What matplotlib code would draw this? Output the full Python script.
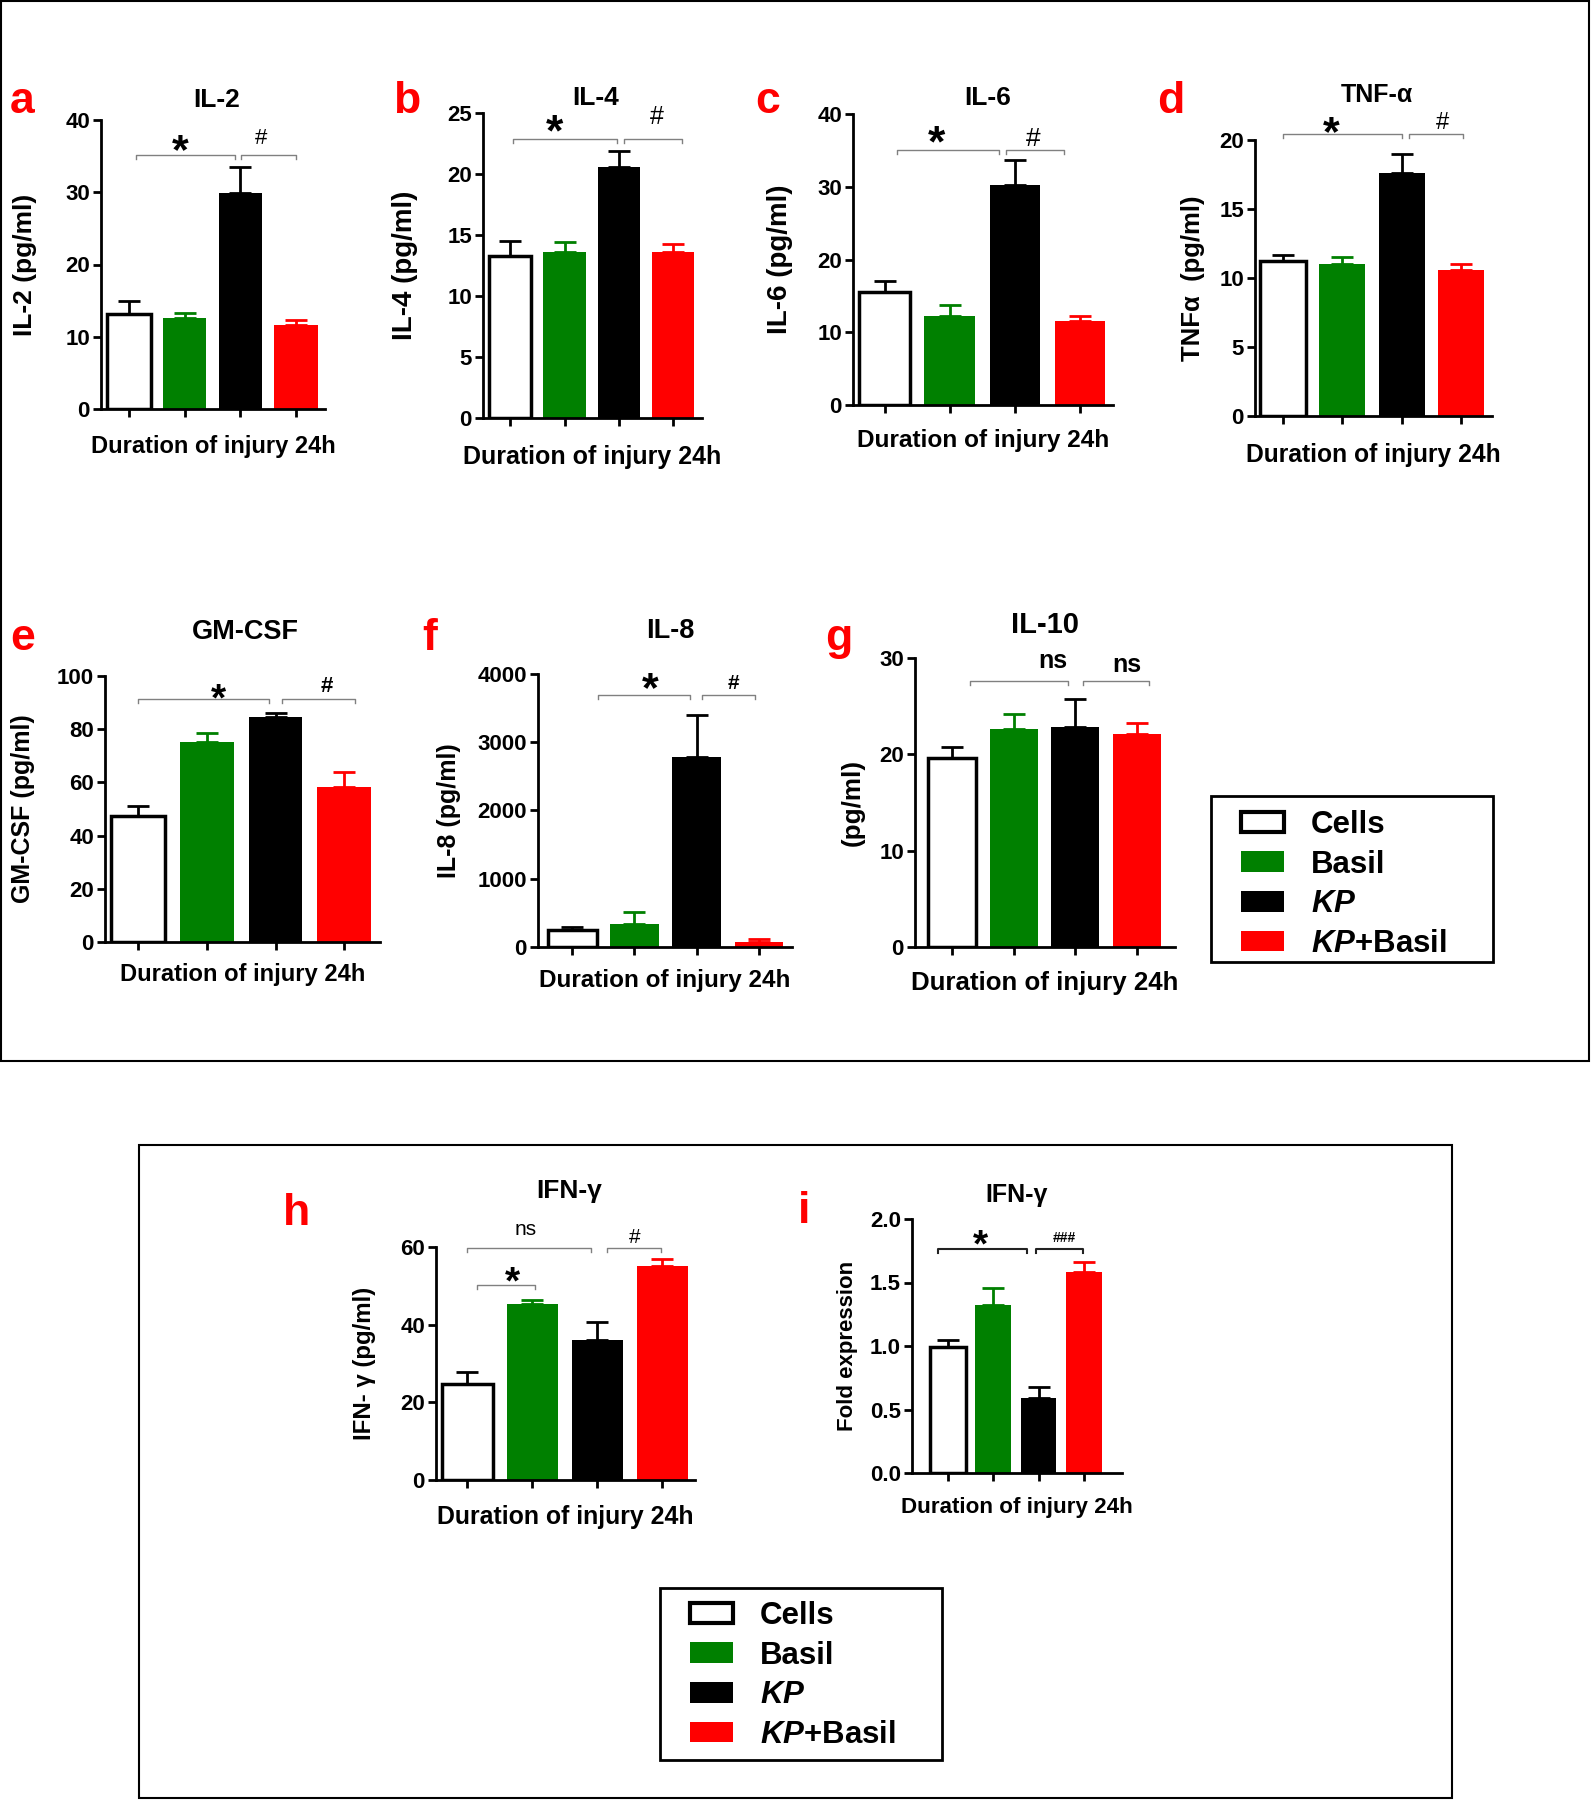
import matplotlib
matplotlib.use("Agg")
import matplotlib.pyplot as plt
from matplotlib.patches import Patch, Rectangle
from matplotlib.transforms import offset_copy
import numpy as np

plt.rcParams['font.family'] = ['Liberation Sans', 'DejaVu Sans']
plt.rcParams['font.weight'] = 'bold'
plt.rcParams['axes.labelweight'] = 'bold'
plt.rcParams['mathtext.fontset'] = 'custom'
plt.rcParams['mathtext.it'] = 'Liberation Sans:italic:bold'
plt.rcParams['mathtext.rm'] = 'Liberation Sans:bold'
plt.rcParams['mathtext.bf'] = 'Liberation Sans:bold'

# ---------------- data ----------------
groups = ["Cells", "Basil", "KP", "KP+Basil"]
legend_labels = ["Cells", "Basil", r"$\mathit{KP}$", r"$\mathit{KP}$+Basil"]

il2_mean = [13.2, 12.6, 29.9, 11.6]
il2_sem = [1.7, 0.7, 3.6, 0.7]
il4_mean = [13.3, 13.6, 20.6, 13.6]
il4_sem = [1.2, 0.8, 1.3, 0.65]
il6_mean = [15.5, 12.2, 30.3, 11.5]
il6_sem = [1.6, 1.6, 3.4, 0.8]
tnf_mean = [11.2, 11.0, 17.6, 10.6]
tnf_sem = [0.45, 0.55, 1.4, 0.4]
gmcsf_mean = [47.3, 75.3, 84.7, 58.3]
gmcsf_sem = [3.8, 3.1, 1.3, 5.7]
il8_mean = [245, 333, 2787, 73]
il8_sem = [50, 180, 612, 50]
il10_mean = [19.6, 22.6, 22.8, 22.1]
il10_sem = [1.2, 1.6, 2.9, 1.2]
ifng_mean = [24.8, 45.3, 36.1, 55.2]
ifng_sem = [3.1, 1.1, 4.6, 1.8]
ifng_fold_mean = [0.99, 1.325, 0.59, 1.58]
ifng_fold_sem = [0.06, 0.13, 0.09, 0.08]

GREEN = "#008000"
RED = "#FF0000"
bar_colors = ["white", GREEN, "black", RED]
edge_colors = ["black", GREEN, "black", RED]
edge_widths = [2.5, 0, 0, 0]
err_colors = ["black", GREEN, "black", RED]

W, H = 1591, 1800
fig = plt.figure(figsize=(W / 100, H / 100), dpi=100)

# baseline offsets (fraction of em) of ink centre for marker glyphs
INK = {'*': 0.57, '#': 0.35, '###': 0.35, 'ns': 0.26}

panels = [
    dict(letter='a', title='IL-2', ylabel='IL-2 (pg/ml)', mean=il2_mean, err=il2_sem,
         ylim=40, yticks=[0, 10, 20, 30, 40], box=(101, 325, 120, 409), xlim=(-0.5, 3.52),
         title_pos=(217, 107), letter_pos=(10, 113), xlab_y=447, ylab_x=25,
         xlab_fs=17, ylab_fs=19, title_fs=19,
         brackets=[(0.12, 1.90, 35.1), (2.01, 3.0, 35.1)],
         marks=[(0.92, 37.5, '*', 31, 'bold'), (2.37, 37.7, '#', 16, 'normal')]),
    dict(letter='b', title='IL-4', ylabel='IL-4 (pg/ml)', mean=il4_mean, err=il4_sem,
         ylim=25, yticks=[0, 5, 10, 15, 20, 25], box=(483, 702, 113, 418), xlim=(-0.5, 3.53),
         title_pos=(596, 105), letter_pos=(393, 113), xlab_y=457, ylab_x=405,
         xlab_fs=18, ylab_fs=20, title_fs=19,
         brackets=[(0.06, 1.96, 22.9), (2.09, 3.17, 22.9)],
         marks=[(0.81, 24.4, '*', 32, 'bold'), (2.69, 24.8, '#', 18, 'normal')]),
    dict(letter='c', title='IL-6', ylabel='IL-6 (pg/ml)', mean=il6_mean, err=il6_sem,
         ylim=40, yticks=[0, 10, 20, 30, 40], box=(853, 1113, 114, 405), xlim=(-0.49, 3.51),
         title_pos=(988, 105), letter_pos=(755, 113), xlab_y=440, ylab_x=780,
         xlab_fs=17.6, ylab_fs=20, title_fs=19,
         brackets=[(0.18, 1.76, 35.1), (1.86, 2.75, 35.1)],
         marks=[(0.79, 37.6, '*', 32, 'bold'), (2.28, 36.9, '#', 19, 'normal')]),
    dict(letter='d', title='TNF-α', ylabel='TNFα  (pg/ml)', mean=tnf_mean, err=tnf_sem,
         ylim=20, yticks=[0, 5, 10, 15, 20], box=(1255, 1492, 140, 416), xlim=(-0.47, 3.52),
         title_pos=(1377, 102), letter_pos=(1157, 113), xlab_y=455, ylab_x=1193,
         xlab_fs=17.7, ylab_fs=18.5, title_fs=18,
         brackets=[(0.0, 2.01, 20.4), (2.12, 3.03, 20.4)],
         marks=[(0.82, 21.4, '*', 31, 'bold'), (2.68, 21.4, '#', 17, 'normal')]),
    dict(letter='e', title='GM-CSF', ylabel='GM-CSF (pg/ml)', mean=gmcsf_mean, err=gmcsf_sem,
         ylim=100, yticks=[0, 20, 40, 60, 80, 100], box=(105, 380, 676, 942), xlim=(-0.48, 3.52),
         title_pos=(245, 639), letter_pos=(10, 650), xlab_y=975, ylab_x=23,
         xlab_fs=17.1, ylab_fs=18, title_fs=19.5,
         brackets=[(0.0, 1.90, 91.3), (2.1, 3.15, 91.3)],
         marks=[(1.17, 95.3, '*', 28, 'bold'), (2.74, 97.0, '#', 16, 'bold')]),
    dict(letter='f', title='IL-8', ylabel='IL-8 (pg/ml)', mean=il8_mean, err=il8_sem,
         ylim=4000, yticks=[0, 1000, 2000, 3000, 4000], box=(538, 792, 674, 947), xlim=(-0.55, 3.53),
         title_pos=(670, 638), letter_pos=(422, 650), xlab_y=980, ylab_x=449,
         xlab_fs=17.5, ylab_fs=18, title_fs=19.5,
         brackets=[(0.42, 1.89, 3692), (2.09, 2.93, 3692)],
         marks=[(1.25, 3960, '*', 31, 'bold'), (2.59, 3890, '#', 15, 'bold')]),
    dict(letter='g', title='IL-10', ylabel='(pg/ml)', mean=il10_mean, err=il10_sem,
         ylim=30, yticks=[0, 10, 20, 30], box=(915, 1175, 658, 947), xlim=(-0.6, 3.62),
         title_pos=(1045, 633), letter_pos=(825, 650), xlab_y=983, ylab_x=853,
         xlab_fs=18.6, ylab_fs=18.7, title_fs=21,
         brackets=[(0.29, 1.89, 27.6), (2.13, 3.19, 27.6)],
         marks=[(1.63, 29.6, 'ns', 18, 'bold'), (2.84, 29.2, 'ns', 18, 'bold')]),
    dict(letter='h', title='IFN-γ', ylabel='IFN- γ (pg/ml)', mean=ifng_mean, err=ifng_sem,
         ylim=60, yticks=[0, 20, 40, 60], box=(436, 695, 1247, 1480), xlim=(-0.48, 3.5),
         title_pos=(569, 1198), letter_pos=(283, 1225), xlab_y=1517, ylab_x=365,
         xlab_fs=17.9, ylab_fs=17.3, title_fs=19,
         brackets=[(0.0, 1.90, 59.8), (0.15, 1.04, 50.3), (2.15, 2.97, 59.8)],
         marks=[(0.9, 64.5, 'ns', 15, 'normal'), (0.69, 53.7, '*', 28, 'bold'),
                (2.58, 62.9, '#', 15, 'normal')]),
    dict(letter='i', title='IFN-γ', ylabel='Fold expression', mean=ifng_fold_mean, err=ifng_fold_sem,
         ylim=2.0, yticks=[0.0, 0.5, 1.0, 1.5, 2.0], box=(912, 1122, 1219, 1473), xlim=(-0.79, 3.84),
         title_pos=(1017, 1202), letter_pos=(798, 1223), xlab_y=1507, ylab_x=847,
         xlab_fs=16.1, ylab_fs=16, title_fs=18, fmt='%.1f', bracket_color='#222222', bracket_lw=1.5,
         brackets=[(-0.22, 1.75, 1.764), (1.95, 2.99, 1.764)],
         marks=[(0.73, 1.88, '*', 28, 'bold'), (2.57, 1.86, '###', 10, 'bold')]),
]

x = np.arange(len(groups))
for p in panels:
    l, r, t, b = p['box']
    wpx, hpx = r - l, b - t
    ax = fig.add_axes([l / W, 1 - b / H, wpx / W, hpx / H])
    ax.bar(x, p['mean'], width=0.78, color=bar_colors, edgecolor=edge_colors,
           linewidth=edge_widths, zorder=2)
    for i in range(len(groups)):
        ax.errorbar(x[i], p['mean'][i], yerr=[[0], [p['err'][i]]], fmt='none',
                    ecolor=err_colors[i], elinewidth=2, capsize=8, capthick=2, zorder=3)
    ax.set_xlim(*p['xlim'])
    ax.set_ylim(0, p['ylim'])
    ax.set_xticks(x)
    ax.set_yticks(p['yticks'])
    if 'fmt' in p:
        ax.yaxis.set_major_formatter(matplotlib.ticker.FormatStrFormatter(p['fmt']))
    ax.tick_params(axis='both', direction='out', length=6, width=2, labelsize=16, pad=2)
    ax.tick_params(axis='x', labelbottom=False)
    for lab in ax.get_yticklabels():
        lab.set_fontweight('bold')
    for s in ['top', 'right']:
        ax.spines[s].set_visible(False)
    for s in ['left', 'bottom']:
        ax.spines[s].set_linewidth(2)
    ax.set_xlabel('Duration of injury 24h', fontsize=p['xlab_fs'], fontweight='bold', va='center')
    ax.xaxis.set_label_coords(0.5, -(p['xlab_y'] - b) / hpx)
    ax.set_ylabel(p['ylabel'], fontsize=p['ylab_fs'], fontweight='bold', va='center', ha='center')
    ax.yaxis.set_label_coords((p['ylab_x'] - l) / wpx, 0.5)
    tx, ty = p['title_pos']
    ax.set_title(p['title'], x=(tx - l) / wpx, y=(b - ty) / hpx, va='baseline', pad=0,
                 fontsize=p['title_fs'], fontweight='bold')
    lx, ly = p['letter_pos']
    fig.text(lx / W, 1 - ly / H, p['letter'], color='#FF0000', fontsize=32,
             fontweight='bold', ha='left', va='baseline')
    bc = p.get('bracket_color', '#808080')
    blw = p.get('bracket_lw', 1.0)
    drop = 4 / hpx * p['ylim']
    for (x1, x2, yy) in p['brackets']:
        ax.plot([x1, x1, x2, x2], [yy - drop, yy, yy, yy - drop], color=bc, lw=blw,
                clip_on=False, zorder=4)
    for (mx, my, s, fs, fw) in p['marks']:
        tr = offset_copy(ax.transData, fig=fig, y=-INK[s] * fs, units='points')
        ax.text(mx, my, s, ha='center', va='baseline', fontsize=fs, fontweight=fw,
                transform=tr, clip_on=False)

# legends
def make_legend(handle_left, top, frame):
    handles = [Patch(facecolor=bar_colors[i], edgecolor='black' if i == 0 else bar_colors[i],
                     linewidth=3 if i == 0 else 0) for i in range(len(groups))]
    leg = fig.legend(handles, legend_labels, loc='upper left',
                     bbox_to_anchor=(handle_left / W, 1 - top / H), frameon=False,
                     prop={'weight': 'bold', 'size': 22.5}, borderpad=0, borderaxespad=0,
                     handlelength=1.37, handleheight=0.64, handletextpad=0.86, labelspacing=0.31)
    fl, ft, fr, fb = frame
    fig.add_artist(Rectangle((fl / W, 1 - fb / H), (fr - fl) / W, (fb - ft) / H,
                             transform=fig.transFigure, fill=False, edgecolor='black', lw=2))
    return leg

make_legend(1241, 810, (1211, 796, 1493, 962))
make_legend(690, 1601, (660, 1588, 942, 1760))

# outer frames
fig.add_artist(Rectangle((1 / W, 1 - 1061 / H), 1588 / W, 1060 / H, transform=fig.transFigure,
                         fill=False, edgecolor='black', lw=1.5))
fig.add_artist(Rectangle((139 / W, 1 - 1798 / H), (1452 - 139) / W, (1798 - 1145) / H,
                         transform=fig.transFigure, fill=False, edgecolor='black', lw=1.5))

fig.savefig('out.png', dpi=100, facecolor='white')
